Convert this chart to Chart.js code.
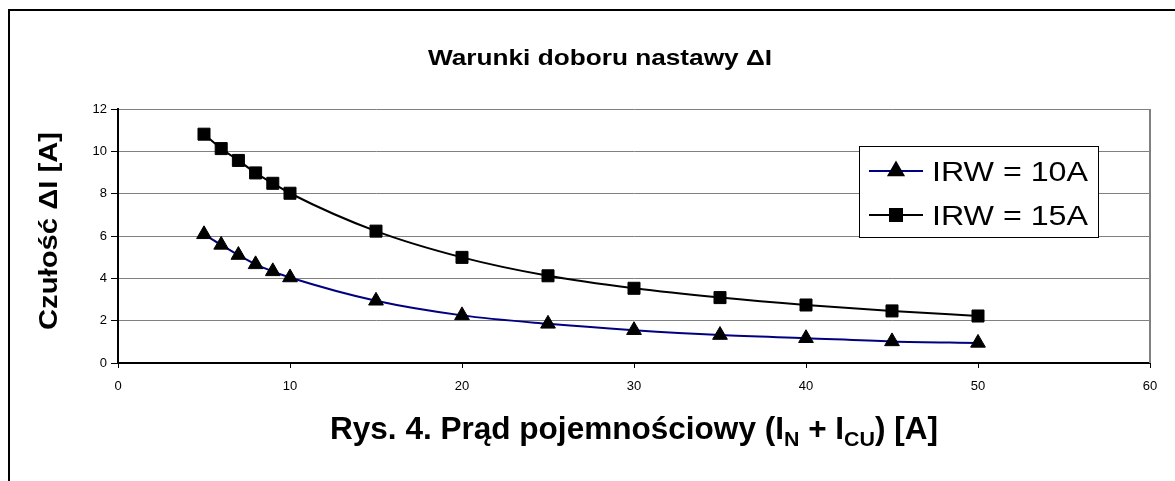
<!DOCTYPE html>
<html>
<head>
<meta charset="utf-8">
<script src="https://cdn.jsdelivr.net/npm/chart.js@4"></script>
<style>
  html, body { margin: 0; padding: 0; background: #fff; }
  #wrap { position: relative; width: 1175px; height: 481px; }
</style>
</head>
<body>
<div id="wrap"><canvas id="chartCzulosc" width="1175" height="481"></canvas></div>
<script>
// Dane
const pradPojemnosciowy = [5, 6, 7, 8, 9, 10, 15, 20, 25, 30, 35, 40, 45, 50];
const czuloscIRW10 = [6.08, 5.58, 5.1, 4.66, 4.33, 4.04, 2.94, 2.25, 1.85, 1.55, 1.32, 1.17, 1.02, 0.95];
const czuloscIRW15 = [10.81, 10.13, 9.57, 8.98, 8.49, 8.02, 6.23, 4.99, 4.12, 3.53, 3.09, 2.74, 2.46, 2.22];
const etykietySerii = ['IRW = 10A', 'IRW = 15A'];
const tytulWykresu = 'Warunki doboru nastawy ΔI';
const tytulOsiY = 'Czułość ΔI [A]';
const tytulOsiX = [['Rys. 4. Prąd pojemnościowy (I', false], ['N', true], [' + I', false], ['CU', true], [') [A]', false]];

const FONT = '"Liberation Sans", Arial, sans-serif';

// tekst rozciagniety do zadanej szerokosci (jak w oryginale z Excela)
function fitText(ctx, text, x, y, font, width, align) {
  ctx.save();
  ctx.font = font;
  const w = ctx.measureText(text).width;
  const s = width / w;
  ctx.translate(x, y);
  ctx.scale(s, 1);
  ctx.textAlign = align || 'left';
  ctx.fillText(text, 0, 0);
  ctx.restore();
}

const ramkaINapisy = {
  id: 'ramkaINapisy',
  afterDraw(chart) {
    const ctx = chart.ctx;
    const a = chart.chartArea;
    ctx.save();
    ctx.fillStyle = '#000';
    ctx.textBaseline = 'alphabetic';

    // ramka zewnetrzna
    ctx.strokeStyle = '#000';
    ctx.lineWidth = 2;
    ctx.beginPath();
    ctx.moveTo(9, 481);
    ctx.lineTo(9, 10);
    ctx.lineTo(1175, 10);
    ctx.stroke();

    // prawa krawedz obszaru wykresu
    ctx.strokeStyle = '#808080';
    ctx.lineWidth = 2;
    ctx.beginPath();
    ctx.moveTo(a.right, a.top);
    ctx.lineTo(a.right, a.bottom);
    ctx.stroke();

    // tytul
    fitText(ctx, tytulWykresu, 428, 65, 'bold 22px ' + FONT, 344, 'left');

    // tytul osi Y
    ctx.save();
    ctx.translate(57, 231);
    ctx.rotate(-Math.PI / 2);
    fitText(ctx, tytulOsiY, -99, 0, 'bold 26px ' + FONT, 198, 'left');
    ctx.restore();

    // tytul osi X z indeksami dolnymi
    const fMain = 'bold 31px ' + FONT;
    const fSub = 'bold 21px ' + FONT;
    let total = 0;
    tytulOsiX.forEach(([t, sub]) => {
      ctx.font = sub ? fSub : fMain;
      total += ctx.measureText(t).width;
    });
    const sc = 608 / total;
    ctx.save();
    ctx.translate(330, 439);
    ctx.scale(sc, 1);
    let xx = 0;
    tytulOsiX.forEach(([t, sub]) => {
      ctx.font = sub ? fSub : fMain;
      ctx.fillText(t, xx, sub ? 7 : 0);
      xx += ctx.measureText(t).width;
    });
    ctx.restore();

    // legenda
    const lx = 859, ly = 146, lw = 239, lh = 91;
    ctx.fillStyle = '#fff';
    ctx.fillRect(lx, ly, lw, lh);
    ctx.strokeStyle = '#000';
    ctx.lineWidth = 1;
    ctx.strokeRect(lx + 0.5, ly + 0.5, lw, lh);
    const rows = [171, 215];
    chart.data.datasets.forEach((ds, i) => {
      const cy = rows[i];
      ctx.strokeStyle = ds.borderColor;
      ctx.lineWidth = 2;
      ctx.beginPath();
      ctx.moveTo(869, cy);
      ctx.lineTo(923, cy);
      ctx.stroke();
      ctx.fillStyle = '#000';
      ctx.strokeStyle = '#000';
      Chart.helpers.drawPoint(ctx, {
        pointStyle: ds.pointStyle, radius: ds.pointRadius, rotation: 0, borderWidth: 1
      }, 896, cy);
      ctx.fillStyle = '#000';
      fitText(ctx, ds.label, 932, cy + 10, '28px ' + FONT, 156, 'left');
    });
    ctx.restore();
  }
};

const ctx = document.getElementById('chartCzulosc').getContext('2d');

const wykres = new Chart(ctx, {
  type: 'line',
  data: {
    datasets: [
      {
        label: etykietySerii[0],
        data: pradPojemnosciowy.map((x, i) => ({ x: x, y: czuloscIRW10[i] })),
        borderColor: '#000080',
        borderWidth: 2,
        pointStyle: 'triangle',
        pointRadius: 8.5,
        pointBackgroundColor: '#000',
        pointBorderColor: '#000',
        pointBorderWidth: 1,
        cubicInterpolationMode: 'monotone',
        fill: false
      },
      {
        label: etykietySerii[1],
        data: pradPojemnosciowy.map((x, i) => ({ x: x, y: czuloscIRW15[i] })),
        borderColor: '#000',
        borderWidth: 2,
        pointStyle: 'rect',
        pointRadius: 8.5,
        pointBackgroundColor: '#000',
        pointBorderColor: '#000',
        pointBorderWidth: 1,
        cubicInterpolationMode: 'monotone',
        fill: false
      }
    ]
  },
  options: {
    responsive: false,
    animation: false,
    layout: { padding: { top: 109, right: 25, left: 0, bottom: 0 } },
    plugins: {
      legend: { display: false },
      title: { display: false },
      tooltip: { enabled: false }
    },
    scales: {
      x: {
        type: 'linear',
        min: 0,
        max: 60,
        ticks: { stepSize: 10, color: '#000', font: { family: FONT, size: 13 }, padding: 11, maxRotation: 0 },
        grid: { drawOnChartArea: false, drawTicks: true, tickLength: 5, color: '#000', tickWidth: 1 },
        border: { color: '#000', width: 2 },
        afterFit: (s) => { s.height = 118; }
      },
      y: {
        min: 0,
        max: 12,
        ticks: { stepSize: 2, color: '#000', font: { family: FONT, size: 13 }, padding: 4 },
        grid: { color: '#808080', lineWidth: 1, tickColor: '#000', tickLength: 7, tickWidth: 1 },
        border: { color: '#000', width: 2 },
        afterFit: (s) => { s.width = 118; }
      }
    }
  },
  plugins: [ramkaINapisy]
});
</script>
</body>
</html>
